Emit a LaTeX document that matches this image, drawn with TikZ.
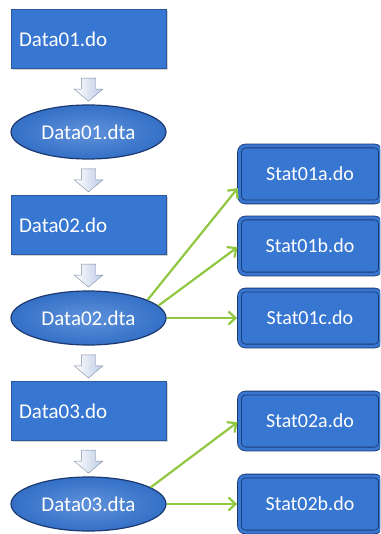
\documentclass[tikz,border=0pt]{standalone}
\usepackage{fontspec}
\setmainfont{Carlito}
\usetikzlibrary{arrows.meta, positioning, shadows, shapes.geometric, shapes.arrows}

\definecolor{boxblue}{HTML}{3776D1}
\definecolor{edgeblue}{HTML}{1C3A70}
\definecolor{linkgreen}{HTML}{8FC741}
\definecolor{arrowgray}{HTML}{7F8DA5}
\definecolor{arrowfill}{HTML}{BCCBE6}

\tikzset{
  dofile/.style={rectangle, fill=boxblue, draw=boxblue!75!black, line width=0.6pt,
    minimum height=59pt, text width=139pt, inner sep=8pt, align=left, text=white,
    font=\fontsize{21}{24}\selectfont,
    drop shadow={shadow xshift=1.5pt, shadow yshift=-1.5pt, opacity=0.35}},
  dtafile/.style={ellipse, inner color=boxblue!80!white, outer color=boxblue!95!black,
    draw=edgeblue, line width=1.2pt, minimum width=155pt, minimum height=54pt,
    inner sep=0pt, text=white, font=\fontsize{21}{24}\selectfont},
  statfile/.style={rectangle, rounded corners=6pt, fill=boxblue, draw=edgeblue,
    line width=0.8pt, double=boxblue, double distance=3pt,
    minimum width=141pt, minimum height=56pt, text=white,
    font=\fontsize{20}{24}\selectfont},
  downarrow/.style={single arrow, shape border rotate=270, draw=arrowgray,
    left color=white, right color=arrowfill, minimum height=23pt, minimum width=25pt,
    inner sep=7pt, single arrow tip angle=100},
  link/.style={-{Straight Barb[length=7pt,width=13pt]}, draw=linkgreen,
    line width=2.2pt, shorten >=2pt}
}

\begin{document}
\begin{tikzpicture}[node distance=93pt, on grid]
	\useasboundingbox (0,0) rectangle (380pt,-534pt);
	\clip (0,0) rectangle (380pt,-534pt);

	% main chain
	\node (d1) [dofile] at (88.5pt,-39pt) {Data01.do};
	\node (e1) [dtafile, below=of d1] {Data01.dta};
	\node (d2) [dofile, below=of e1] {Data02.do};
	\node (e2) [dtafile, below=of d2] {Data02.dta};
	\node (d3) [dofile, below=of e2] {Data03.do};
	\node (e3) [dtafile, below=of d3] {Data03.dta};

	% stat files
	\node (s1c) [statfile, right=221.5pt of e2] {Stat01c.do};
	\node (s1b) [statfile, above=72pt of s1c] {Stat01b.do};
	\node (s1a) [statfile, above=72pt of s1b] {Stat01a.do};
	\node (s2b) [statfile, right=221.5pt of e3] {Stat02b.do};
	\node (s2a) [statfile, above=83pt of s2b] {Stat02a.do};

	\path (d1) -- (e1) node [midway, downarrow] (a1) {};
	\path (e1) -- (d2) node [midway, downarrow] (a2) {};
	\path (d2) -- (e2) node [midway, downarrow] (a3) {};
	\path (e2) -- (d3) node [midway, downarrow] (a4) {};
	\path (d3) -- (e3) node [midway, downarrow] (a5) {};

	\draw [link] (e2.17) -- (s1a.190);
	\draw [link] (e2.10) -- (s1b.west);
	\draw [link] (e2.east) -- (s1c.west);
	\draw [link] (e3.15) -- (s2a.west);
	\draw [link] (e3.east) -- (s2b.west);

\end{tikzpicture}
\end{document}
